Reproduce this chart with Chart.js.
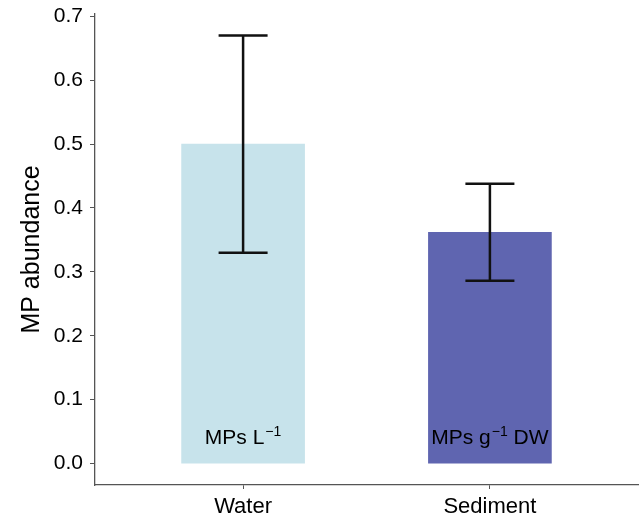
<!DOCTYPE html>
<html>
<head>
<meta charset="utf-8">
<script src="https://cdn.jsdelivr.net/npm/chart.js@4"></script>
<style>
  html, body { margin: 0; padding: 0; background: #fff; }
  #wrap { width: 640px; height: 516px; }
</style>
</head>
<body>
<div id="wrap"><canvas id="mpChart"></canvas></div>
<script>
const categories = ["Water", "Sediment"];
const abundance = [0.5, 0.362];
const errLow = [0.33, 0.286];
const errHigh = [0.67, 0.438];
const barColors = ["#c7e3eb", "#5f65b0"];
const unitLabels = [["MPs L", "\u22121", ""], ["MPs g", "\u22121", " DW"]];
const yTicks = [0, 0.1, 0.2, 0.3, 0.4, 0.5, 0.6, 0.7];

const FONT = "'Liberation Sans', Arial, sans-serif";
const AXIS = "#555";

// error bars drawn from the y scale
const errorBars = {
  id: "errorBars",
  afterDatasetsDraw(chart) {
    const { ctx, scales: { x, y } } = chart;
    ctx.save();
    ctx.strokeStyle = "#111";
    ctx.lineWidth = 2.5;
    ctx.lineCap = "butt";
    categories.forEach((c, i) => {
      const px = x.getPixelForValue(i);
      const lo = y.getPixelForValue(errLow[i]);
      const hi = y.getPixelForValue(errHigh[i]);
      ctx.beginPath();
      ctx.moveTo(px, lo); ctx.lineTo(px, hi);
      ctx.moveTo(px - 24.5, lo); ctx.lineTo(px + 24.5, lo);
      ctx.moveTo(px - 24.5, hi); ctx.lineTo(px + 24.5, hi);
      ctx.stroke();
    });
    ctx.restore();
  }
};

// unit text inside the bars, with superscript
const unitText = {
  id: "unitText",
  afterDatasetsDraw(chart) {
    const { ctx, scales: { x, y } } = chart;
    const base = y.getPixelForValue(0) - 20;
    ctx.save();
    ctx.fillStyle = "#000";
    ctx.textBaseline = "alphabetic";
    ctx.textAlign = "left";
    unitLabels.forEach((parts, i) => {
      const big = "21px " + FONT, small = "14px " + FONT;
      ctx.font = big;
      const w0 = ctx.measureText(parts[0]).width;
      const w2 = ctx.measureText(parts[2]).width;
      ctx.font = small;
      const w1 = ctx.measureText(parts[1]).width;
      let cx = x.getPixelForValue(i) - (w0 + w1 + 1 + w2) / 2;
      ctx.font = big;
      ctx.fillText(parts[0], cx, base);
      cx += w0 + 1;
      ctx.font = small;
      ctx.fillText(parts[1], cx, base - 8);
      cx += w1;
      ctx.font = big;
      ctx.fillText(parts[2], cx, base);
    });
    ctx.restore();
  }
};

new Chart(document.getElementById("mpChart"), {
  type: "bar",
  data: {
    datasets: [{
      data: categories.map((c, i) => ({ x: i, y: abundance[i] })),
      backgroundColor: barColors,
      borderWidth: 0,
      barThickness: 123
    }]
  },
  options: {
    responsive: true,
    maintainAspectRatio: false,
    animation: false,
    layout: { padding: { top: 14, right: 2, left: 0, bottom: 0 } },
    plugins: { legend: { display: false }, tooltip: { enabled: false } },
    scales: {
      x: {
        type: "linear",
        offset: false,
        min: -0.6,
        max: 1.6,
        afterBuildTicks: (s) => { s.ticks = categories.map((c, i) => ({ value: i })); },
        afterFit: (s) => { s.height = 31; s.paddingLeft = 0; s.paddingRight = 0; },
        ticks: {
          callback: (v) => categories[v],
          color: "#000",
          font: { family: FONT, size: 22 },
          padding: 5,
          maxRotation: 0
        },
        grid: { display: true, offset: false, drawOnChartArea: false, color: AXIS, tickLength: 4 },
        border: { color: AXIS, width: 1.3 }
      },
      y: {
        min: -0.0335,
        max: 0.7035,
        afterBuildTicks: (s) => { s.ticks = yTicks.map(v => ({ value: v })); },
        afterFit: (s) => { s.width = 95; s.paddingTop = 0; s.paddingBottom = 0; },
        ticks: {
          callback: (v) => v.toFixed(1),
          color: "#000",
          font: { family: FONT, size: 21 },
          padding: 7
        },
        grid: { display: true, drawOnChartArea: false, color: AXIS, tickLength: 5 },
        border: { color: AXIS, width: 1.3 },
        title: {
          display: true,
          text: "MP abundance",
          color: "#000",
          font: { family: FONT, size: 25 },
          padding: { top: 17, bottom: 0 }
        }
      }
    }
  },
  plugins: [errorBars, unitText]
});
</script>
</body>
</html>
